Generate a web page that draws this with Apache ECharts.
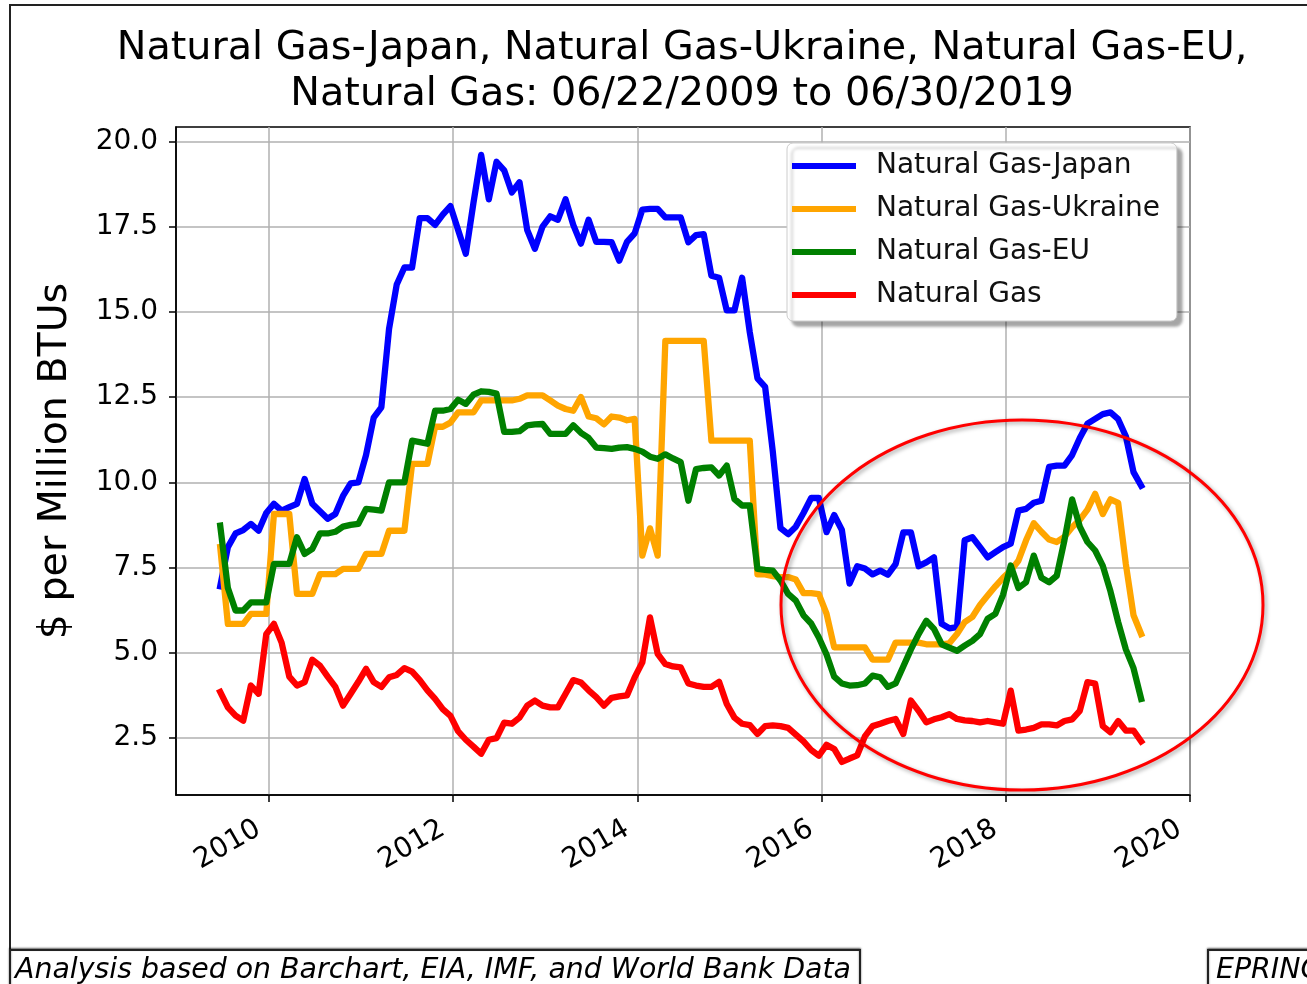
<!DOCTYPE html>
<html>
<head>
<meta charset="utf-8">
<title>Natural Gas prices</title>
<script src="https://cdn.jsdelivr.net/npm/echarts@6/dist/echarts.min.js"></script>
<style>
  html, body { margin: 0; padding: 0; background: #fff; }
  #main { width: 1307px; height: 984px; }
</style>
</head>
<body>
<div id="main"></div>
<script>
// monthly observations, first one on 06/22/2009 (decimal years for the x axis)
const startYear = 2009.47
const seriesNames = ['Natural Gas-Japan', 'Natural Gas-Ukraine', 'Natural Gas-EU', 'Natural Gas']
const seriesColors = ['#0000ff', '#ffa500', '#008000', '#ff0000']

const xTicks = [2010, 2012, 2014, 2016, 2018, 2020]
const yTicks = [2.5, 5, 7.5, 10, 12.5, 15, 17.5, 20]

// $ per Million BTUs
const japan = [
  6.95, 8.1, 8.5, 8.6, 8.78, 8.58, 9.1, 9.37, 9.17, 9.27,
  9.37, 10.1, 9.37, 9.15, 8.93, 9.07, 9.6, 9.97, 10.0, 10.8,
  11.9, 12.2, 14.5, 15.8, 16.3, 16.3, 17.75, 17.75, 17.55, 17.85,
  18.1, 17.4, 16.7, 18.2, 19.6, 18.3, 19.4, 19.15, 18.5, 18.8,
  17.4, 16.85, 17.5, 17.8, 17.7, 18.3, 17.55, 17.0, 17.7, 17.05,
  17.05, 17.04, 16.5, 17.05, 17.3, 18.0, 18.02, 18.02, 17.77, 17.77,
  17.77, 17.04, 17.25, 17.28, 16.06, 16.0, 15.04, 15.04, 16.0, 14.4,
  13.05, 12.8, 10.9, 8.66, 8.48, 8.7, 9.1, 9.54, 9.54, 8.54,
  9.04, 8.6, 7.03, 7.54, 7.47, 7.3, 7.41, 7.29, 7.6, 8.53,
  8.53, 7.54, 7.65, 7.8, 5.85, 5.72, 5.75, 8.3, 8.39, 8.1,
  7.8, 7.95, 8.1, 8.2, 9.17, 9.22, 9.4, 9.46, 10.45, 10.49,
  10.49, 10.8, 11.3, 11.72, 11.86, 12.0, 12.05, 11.85, 11.35, 10.3,
  9.9
]
const ukraine = [
  8.1, 5.85, 5.85, 5.85, 6.14, 6.14, 6.14, 9.07, 9.07, 9.07,
  6.73, 6.73, 6.73, 7.31, 7.31, 7.31, 7.46, 7.46, 7.46, 7.9,
  7.9, 7.9, 8.58, 8.58, 8.58, 10.54, 10.54, 10.54, 11.63, 11.63,
  11.75, 12.05, 12.05, 12.05, 12.4, 12.4, 12.4, 12.4, 12.4, 12.45,
  12.55, 12.55, 12.55, 12.4, 12.25, 12.15, 12.1, 12.5, 11.93, 11.88,
  11.7, 11.93, 11.9, 11.82, 11.86, 7.85, 8.65, 7.85, 14.15, 14.15,
  14.15, 14.15, 14.15, 14.15, 11.22, 11.22, 11.22, 11.22, 11.22, 11.22,
  7.3, 7.3, 7.25, 7.22, 7.22, 7.15, 6.75, 6.75, 6.72, 6.15,
  5.16, 5.16, 5.16, 5.16, 5.16, 4.8, 4.8, 4.8, 5.3, 5.3,
  5.3, 5.3, 5.25, 5.25, 5.25, 5.28, 5.55, 5.9, 6.05, 6.4,
  6.68, 6.95, 7.2, 7.41, 7.7, 8.3, 8.8, 8.55, 8.32, 8.25,
  8.4, 8.68, 8.9, 9.2, 9.66, 9.07, 9.5, 9.4, 7.6, 6.1,
  5.55
]
const eu = [
  8.73, 6.9, 6.24, 6.24, 6.48, 6.48, 6.48, 7.61, 7.61, 7.61,
  8.39, 7.9, 8.05, 8.5, 8.5, 8.55, 8.7, 8.75, 8.78, 9.22,
  9.2, 9.17, 10.0, 10.0, 10.0, 11.22, 11.18, 11.13, 12.1, 12.1,
  12.15, 12.42, 12.3, 12.57, 12.67, 12.65, 12.6, 11.48, 11.48, 11.5,
  11.67, 11.7, 11.71, 11.42, 11.42, 11.42, 11.67, 11.45, 11.3, 11.02,
  11.0, 10.98, 11.02, 11.03, 10.98, 10.9, 10.75, 10.69, 10.82, 10.7,
  10.59, 9.46, 10.39, 10.42, 10.44, 10.2, 10.49, 9.51, 9.32, 9.32,
  7.46, 7.43, 7.41, 7.12, 6.73, 6.53, 6.1, 5.86, 5.45, 4.95,
  4.3, 4.1, 4.04, 4.05, 4.1, 4.33, 4.28, 4.0, 4.1, 4.6,
  5.1, 5.55, 5.94, 5.7, 5.25, 5.15, 5.06, 5.21, 5.35, 5.55,
  6.0, 6.14, 6.7, 7.56, 6.9, 7.07, 7.85, 7.2, 7.07, 7.26,
  8.3, 9.5, 8.7, 8.25, 8.0, 7.55, 6.8, 5.9, 5.1, 4.55,
  3.65
]
const usGas = [
  3.85, 3.4, 3.16, 3.01, 4.04, 3.8, 5.55, 5.85, 5.3, 4.3,
  4.04, 4.14, 4.8, 4.62, 4.3, 4.0, 3.45, 3.8, 4.15, 4.53,
  4.14, 4.0, 4.28, 4.35, 4.55, 4.45, 4.2, 3.9, 3.65, 3.35,
  3.15, 2.7, 2.45, 2.25, 2.04, 2.45, 2.5, 2.95, 2.92, 3.1,
  3.45, 3.6, 3.45, 3.4, 3.4, 3.8, 4.2, 4.13, 3.9, 3.7,
  3.45, 3.68, 3.72, 3.75, 4.28, 4.72, 6.04, 4.97, 4.67, 4.6,
  4.57, 4.1, 4.04, 4.0, 4.0, 4.15, 3.5, 3.1, 2.92, 2.88,
  2.62, 2.85, 2.87, 2.85, 2.8, 2.6, 2.4, 2.15, 1.98, 2.3,
  2.18, 1.8, 1.9, 1.99, 2.55, 2.85, 2.92, 3.0, 3.06, 2.62,
  3.6, 3.3, 2.96, 3.05, 3.11, 3.2, 3.06, 3.02, 3.0, 2.96,
  3.0, 2.96, 2.92, 3.89, 2.72, 2.75, 2.8, 2.9, 2.9, 2.87,
  3.0, 3.05, 3.3, 4.14, 4.1, 2.85, 2.67, 3.0, 2.72, 2.72,
  2.4
]

const dates = []
for (let i = 0; i < japan.length; i++) {
  dates.push(startYear + i / 12)
}

const allValues = [japan, ukraine, eu, usGas]
const font = 'DejaVu Sans'

let chart = echarts.init(document.getElementById('main'))

let option = {
  backgroundColor: '#fff',
  animation: false,
  title: {
    text: 'Natural Gas-Japan, Natural Gas-Ukraine, Natural Gas-EU,\nNatural Gas: 06/22/2009 to 06/30/2019',
    left: 677,
    top: 21,
    textAlign: 'center',
    textStyle: {
      fontFamily: font,
      fontSize: 39.7,
      fontWeight: 'normal',
      color: '#000',
      lineHeight: 45.5
    }
  },
  legend: {
    orient: 'vertical',
    left: 787,
    top: 143,
    data: seriesNames,
    icon: 'rect',
    itemWidth: 64,
    itemHeight: 6,
    itemGap: 13,
    padding: [8, 17, 11, 5],
    backgroundColor: '#fff',
    borderColor: '#cccccc',
    borderWidth: 1,
    borderRadius: 6,
    shadowColor: 'rgba(0, 0, 0, 0.35)',
    shadowOffsetX: 5,
    shadowOffsetY: 5,
    shadowBlur: 3,
    textStyle: {
      fontFamily: font,
      fontSize: 28,
      color: '#111',
      lineHeight: 30,
      padding: [0, 0, 0, 15]
    }
  },
  grid: {
    left: 176,
    top: 127,
    right: 117,
    bottom: 189,
    show: true,
    borderColor: '#000',
    borderWidth: 1.5,
    backgroundColor: 'transparent'
  },
  xAxis: {
    type: 'value',
    min: 2008.99,
    max: 2020,
    axisLine: { lineStyle: { color: '#000', width: 1.5 } },
    axisTick: {
      customValues: xTicks,
      length: 7,
      lineStyle: { color: '#000', width: 1.5 }
    },
    axisLabel: {
      customValues: xTicks,
      rotate: 30,
      margin: 26,
      padding: [0, 12, 0, 0],
      fontFamily: font,
      fontSize: 28,
      color: '#000',
      formatter: v => String(v)
    },
    splitLine: { show: true, lineStyle: { color: '#b0b0b0', width: 1.5 } }
  },
  yAxis: {
    type: 'value',
    min: 0.83,
    max: 20.42,
    name: '$ per Million BTUs',
    nameLocation: 'middle',
    nameGap: 100,
    nameTextStyle: { fontFamily: font, fontSize: 39.5, color: '#000' },
    axisLine: { show: true, lineStyle: { color: '#000', width: 1.5 } },
    axisTick: {
      show: true,
      customValues: yTicks,
      length: 7,
      lineStyle: { color: '#000', width: 1.5 }
    },
    axisLabel: {
      customValues: yTicks,
      margin: 18,
      fontFamily: font,
      fontSize: 28,
      color: '#000',
      formatter: v => v.toFixed(1)
    },
    splitLine: { show: true, lineStyle: { color: '#b0b0b0', width: 1.5 } }
  },
  series: seriesNames.map((name, s) => ({
    name: name,
    type: 'line',
    showSymbol: false,
    symbol: 'none',
    color: seriesColors[s],
    lineStyle: { width: 6.3, color: seriesColors[s], cap: 'square', join: 'round' },
    data: dates.map((t, i) => [t, allValues[s][i]])
  })),
  graphic: [
    // page frame
    {
      type: 'rect',
      shape: { x: 10, y: 5, width: 1400, height: 1200 },
      style: { fill: 'none', stroke: '#222', lineWidth: 2 },
      z: 50
    },
    // highlighted region
    {
      type: 'ellipse',
      shape: { cx: 1022, cy: 605, rx: 241, ry: 185 },
      style: {
        fill: 'none',
        stroke: '#ff0000',
        lineWidth: 3,
        shadowBlur: 4,
        shadowColor: 'rgba(0, 0, 0, 0.35)',
        shadowOffsetX: 2,
        shadowOffsetY: 2
      },
      z: 100
    },
    {
      type: 'rect',
      shape: { x: 10, y: 950, width: 850, height: 60 },
      style: { fill: '#fff', stroke: '#222', lineWidth: 2, shadowBlur: 2, shadowColor: 'rgba(0,0,0,0.5)', shadowOffsetY: -1 },
      z: 60
    },
    {
      type: 'text',
      x: 15,
      y: 971,
      style: {
        text: 'Analysis based on Barchart, EIA, IMF, and World Bank Data',
        font: 'italic 28.4px "DejaVu Sans"',
        fill: '#000',
        verticalAlign: 'middle'
      },
      z: 61
    },
    {
      type: 'rect',
      shape: { x: 1208, y: 950, width: 200, height: 60 },
      style: { fill: '#fff', stroke: '#222', lineWidth: 2, shadowBlur: 2, shadowColor: 'rgba(0,0,0,0.5)', shadowOffsetY: -1 },
      z: 60
    },
    {
      type: 'text',
      x: 1216,
      y: 971,
      style: {
        text: 'EPRINC',
        font: 'italic 28.4px "DejaVu Sans"',
        fill: '#000',
        verticalAlign: 'middle'
      },
      z: 61
    }
  ]
}

chart.setOption(option)
</script>
</body>
</html>
